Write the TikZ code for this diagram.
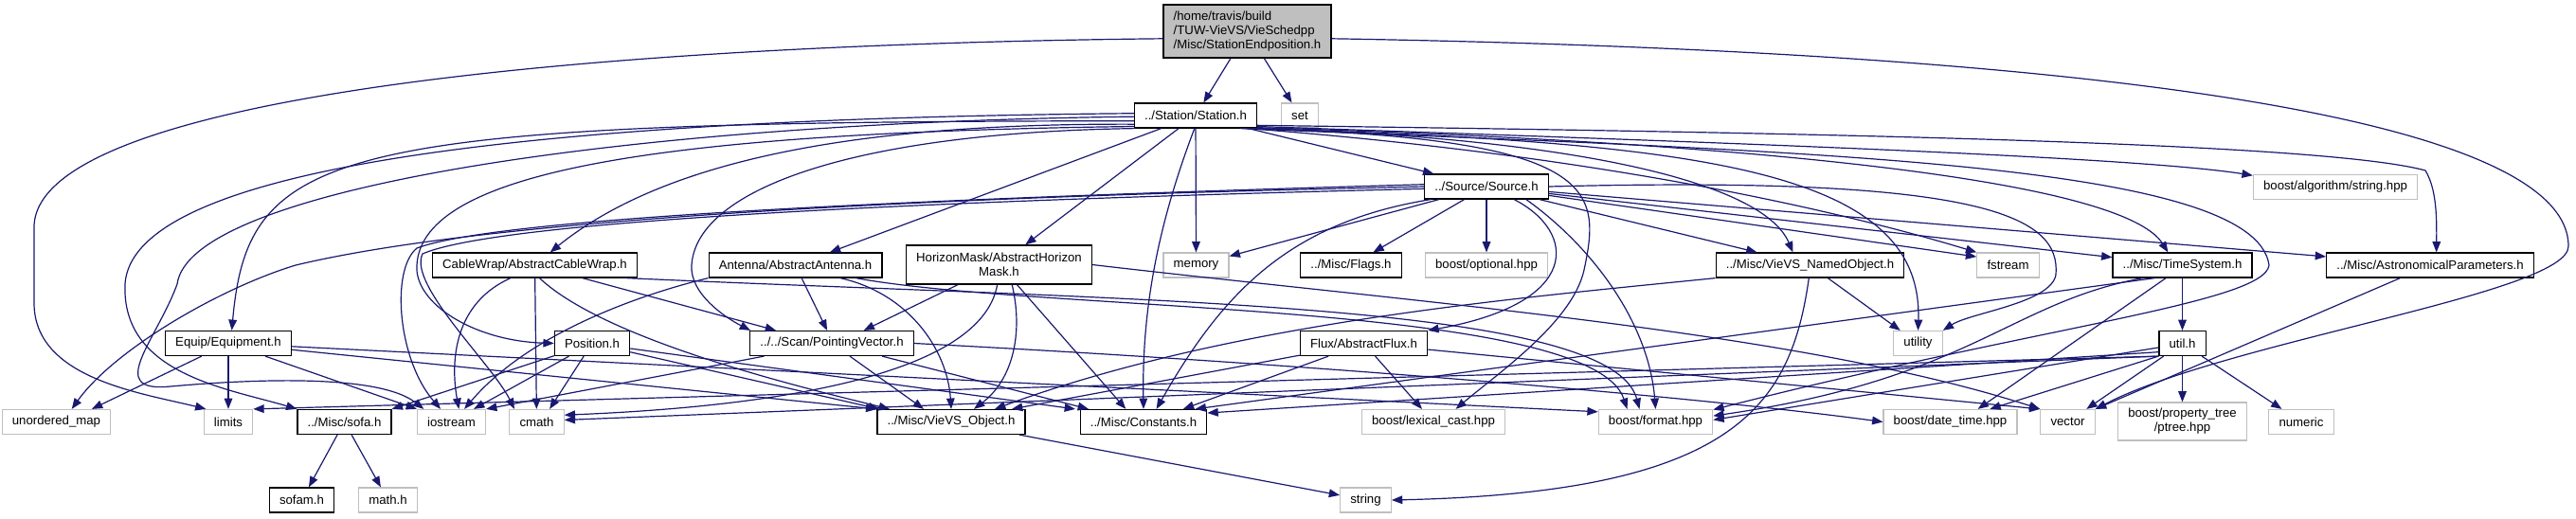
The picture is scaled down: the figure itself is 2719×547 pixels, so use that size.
\documentclass[tikz,border=0pt]{standalone}
\usepackage{fontspec}
\setmainfont{Liberation Sans}
\usetikzlibrary{arrows.meta,calc}
\definecolor{incblue}{HTML}{191970}
\definecolor{sysgray}{HTML}{BFBFBF}

\begin{document}
\begin{tikzpicture}[
  x=0.75pt, y=0.75pt,
  font=\fontsize{9.9}{11.3}\selectfont,
  filebox/.style={
    draw,
    line width=0.9pt,
    fill=white,
    inner xsep=8pt,
    inner ysep=4.4pt,
    minimum height=19.5pt,
    align=center
  },
  hdr/.style={filebox, draw=black},
  sysfile/.style={filebox, draw=sysgray},
  rootfile/.style={filebox, draw=black, fill=sysgray, align=left, minimum height=42pt},
  inc/.style={
    -{Triangle[length=8.5pt,width=6.5pt]},
    line width=0.9pt,
    draw=incblue
  }
]
  \useasboundingbox (0,0) rectangle (2719,-547);

  % -------------------------------------------------------------
  % FILES (one row per include level)
  % -------------------------------------------------------------
  \node[rootfile] (root) at (1316.5,-33) {/home/travis/build\\/TUW-VieVS/VieSchedpp\\/Misc/StationEndposition.h};

  \node[hdr] (station) at (1262,-122) {../Station/Station.h};
  \node[sysfile] (set) at (1372,-122) {set};

  \node[hdr] (source) at (1569,-197) {../Source/Source.h};
  \node[sysfile] (algstr) at (2465,-197.5) {boost/algorithm/string.hpp};

  \node[hdr] (cablewrap) at (564.5,-280) {CableWrap/AbstractCableWrap.h};
  \node[hdr] (antenna) at (839.5,-280) {Antenna/AbstractAntenna.h};
  \node[hdr, minimum height=30.75pt] (horizon) at (1054.5,-279.5) {HorizonMask/AbstractHorizon\\Mask.h};
  \node[sysfile] (memory) at (1262.5,-280) {memory};
  \node[hdr] (flags) at (1426,-280) {../Misc/Flags.h};
  \node[sysfile] (optional) at (1569,-280) {boost/optional.hpp};
  \node[hdr] (named) at (1910.5,-280) {../Misc/VieVS\_NamedObject.h};
  \node[sysfile] (fstream) at (2119.5,-280) {fstream};
  \node[hdr] (timesys) at (2303.5,-280) {../Misc/TimeSystem.h};
  \node[hdr] (astro) at (2565,-280) {../Misc/AstronomicalParameters.h};

  \node[hdr] (equip) at (241,-362.5) {Equip/Equipment.h};
  \node[hdr] (position) at (625,-362.5) {Position.h};
  \node[hdr] (pointing) at (878,-362.5) {../../Scan/PointingVector.h};
  \node[hdr] (flux) at (1439.5,-362.5) {Flux/AbstractFlux.h};
  \node[sysfile] (utility) at (2024.5,-362.5) {utility};
  \node[hdr] (util) at (2303.5,-362.5) {util.h};

  \node[sysfile] (unordered) at (59.5,-445.5) {unordered\_map};
  \node[sysfile] (limits) at (241,-445.5) {limits};
  \node[hdr] (sofa) at (363.5,-445.5) {../Misc/sofa.h};
  \node[sysfile] (iostream) at (476.5,-445.5) {iostream};
  \node[sysfile] (cmath) at (566.5,-445.5) {cmath};
  \node[hdr] (vobj) at (1004,-445.5) {../Misc/VieVS\_Object.h};
  \node[hdr] (constants) at (1207,-445.5) {../Misc/Constants.h};
  \node[sysfile] (lexical) at (1513,-445.5) {boost/lexical\_cast.hpp};
  \node[sysfile] (format) at (1747.5,-445.5) {boost/format.hpp};
  \node[sysfile] (datetime) at (2058.5,-445.5) {boost/date\_time.hpp};
  \node[sysfile] (vector) at (2182.5,-445.5) {vector};
  \node[sysfile, minimum height=30pt] (ptree) at (2303.5,-445) {boost/property\_tree\\/ptree.hpp};
  \node[sysfile] (numeric) at (2429,-445.5) {numeric};

  \node[hdr] (sofam) at (318.5,-528) {sofam.h};
  \node[sysfile] (mathh) at (409.5,-528) {math.h};
  \node[sysfile] (string) at (1441.5,-528) {string};

  % -------------------------------------------------------------
  % INCLUDES OF THE ROOT FILE
  % -------------------------------------------------------------
  \draw[inc] (root) -- (station);
  \draw[inc] (root) -- (set);
  \draw[inc] (root.185) .. controls (560,-48) and (36,-110) .. (36,-240)
    -- (36,-320) .. controls (36,-400) and (150,-415) .. (limits.150);
  \draw[inc] (root.-5) .. controls (2250,-55) and (2711,-130) .. (2711,-260)
    .. controls (2711,-310) and (2350,-360) .. (vector.north east);

  % -------------------------------------------------------------
  % STATION.H
  % -------------------------------------------------------------
  \draw[inc] (station) -- (source);
  \draw[inc] (station) -- (antenna);
  \draw[inc] (station) -- (horizon);
  \draw[inc] (station) -- (memory);
  \draw[inc] (station.188) .. controls (900,-130) and (700,-170) .. (cablewrap.40);
  \draw[inc] (station.185) .. controls (350,-128) and (262,-155) .. (equip.75);
  \draw[inc] (station.178) .. controls (600,-125) and (140,-170) .. (132,-300)
    .. controls (128,-395) and (240,-410) .. (sofa.north west);
  \draw[inc] (station.181) .. controls (650,-130) and (200,-200) .. (187,-300)
    .. controls (165,-360) and (110,-415) .. (180,-408)
    .. controls (270,-400) and (400,-395) .. (iostream.155);
  \draw[inc] (station.190) .. controls (700,-140) and (445,-180) .. (440,-280)
    .. controls (437,-320) and (500,-360) .. (position.west);
  \draw[inc] (station.192) .. controls (900,-140) and (735,-200) .. (730,-280)
    .. controls (728,-310) and (765,-335) .. (pointing.171);
  \draw[inc] (station.-95) .. controls (1225,-230) and (1205,-320) .. (constants.north);
  \draw[inc] (station.-9) .. controls (1900,-140) and (2450,-150) .. (2560,-180)
    .. controls (2572,-200) and (2572,-230) .. ([xshift=5pt]astro.north);
  \draw[inc] (station.-10) .. controls (1800,-150) and (2250,-165) .. (algstr.172);
  \draw[inc] (station.-11) .. controls (1850,-150) and (2240,-190) .. (timesys.138);
  \draw[inc] (station.-12) .. controls (1650,-145) and (1860,-190) .. (named.143);
  \draw[inc] (station.-13) .. controls (1800,-150) and (2030,-180) .. (utility.north);
  \draw[inc] (station.-14) .. controls (1700,-165) and (1950,-225) .. (fstream.north west);
  \draw[inc] (station.-15) .. controls (1690,-145) and (1690,-200) .. (1672,-285)
    .. controls (1660,-340) and (1580,-395) .. (lexical.30);
  \draw[inc] (station.-16) .. controls (1900,-160) and (2380,-170) .. (2395,-280)
    .. controls (2390,-320) and (2150,-345) .. (format.12);

  % -------------------------------------------------------------
  % SOURCE.H
  % -------------------------------------------------------------
  \draw[inc] (source) -- (flags);
  \draw[inc] (source) -- (optional);
  \draw[inc] (source) -- (named);
  \draw[inc] (source) -- (fstream.165);
  \draw[inc] (source) -- (timesys);
  \draw[inc] (source) -- (astro);
  \draw[inc] (source) -- (memory);
  \draw[inc] (source.-25) .. controls (1665,-245) and (1670,-320) .. (flux.north east);
  \draw[inc] (source.-18) .. controls (1680,-260) and (1740,-340) .. (format.north);
  \draw[inc] (source.193) .. controls (1360,-235) and (1290,-310) .. (constants.45);
  \draw[inc] (source.east) .. controls (2100,-185) and (2175,-230) .. (2170,-290)
    .. controls (2165,-320) and (2080,-330) .. (utility.north east);
  \draw[inc] (source.west) .. controls (900,-210) and (500,-235) .. (312,-280)
    .. controls (230,-305) and (120,-370) .. (unordered.40);
  \draw[inc] (source.178) .. controls (900,-212) and (520,-232) .. (440,-262)
    .. controls (412,-285) and (420,-380) .. (iostream.130);
  \draw[inc] (source.182) .. controls (900,-214) and (520,-236) .. (446,-268)
    .. controls (430,-300) and (520,-385) .. (cmath.150);

  % -------------------------------------------------------------
  % STATION PARTS
  % -------------------------------------------------------------
  \draw[inc] (equip) -- (unordered.20);
  \draw[inc] (equip) -- (limits);
  \draw[inc] (equip) -- (iostream.north west);
  \draw[inc] (equip) -- (vobj.north west);
  \draw[inc] (equip) -- (format.170);

  \draw[inc] (position) -- (sofa.north east);
  \draw[inc] (position) -- (iostream.30);
  \draw[inc] (position) -- (cmath.45);
  \draw[inc] (position) -- ([xshift=-57pt]vobj.north);
  \draw[inc] (position) -- ([xshift=-54pt]constants.north);

  \draw[inc] (cablewrap.-152) .. controls (480,-320) and (475,-380) .. (iostream.60);
  \draw[inc] (cablewrap) -- (cmath);
  \draw[inc] (cablewrap) -- (pointing.167);
  \draw[inc] (cablewrap.-70) .. controls (640,-360) and (850,-410) .. ([xshift=-48.75pt]vobj.north);
  \draw[inc] (cablewrap.-8) .. controls (1200,-318) and (1700,-318) .. ([xshift=-12.75pt]format.north);

  \draw[inc] (antenna.south west) .. controls (680,-310) and (560,-350) .. (iostream.45);
  \draw[inc] (antenna) -- (pointing.110);
  \draw[inc] (antenna.-16) .. controls (960,-310) and (1000,-370) .. (vobj.north);
  \draw[inc] (antenna.-12) .. controls (1100,-330) and (1680,-318) .. ([xshift=-22.5pt]format.north);

  \draw[inc] (horizon) -- (pointing.22);
  \draw[inc] (horizon.-57) .. controls (1080,-350) and (1070,-400) .. ([xshift=18pt]vobj.north);
  \draw[inc] (horizon.-48) -- (constants.144);
  \draw[inc] (horizon.-95) .. controls (1035,-400) and (800,-430) .. (cmath.14);
  \draw[inc] (horizon.east) .. controls (1500,-320) and (1900,-350) .. (vector.north west);

  \draw[inc] (pointing) -- ([xshift=-21.75pt]vobj.north);
  \draw[inc] (pointing) -- ([xshift=-43.5pt]constants.north);
  \draw[inc] (pointing) -- (iostream.north east);
  \draw[inc] (pointing.east) .. controls (1400,-385) and (1800,-420) .. (datetime.west);

  % -------------------------------------------------------------
  % MISC HEADERS
  % -------------------------------------------------------------
  \draw[inc] (flux) -- (vobj.12);
  \draw[inc] (flux) -- (constants.18);
  \draw[inc] (flux) -- (lexical);
  \draw[inc] (flux) -- (vector.north west);

  \draw[inc] (named.south west) .. controls (1600,-315) and (1300,-340) .. ([xshift=34.5pt]vobj.north);
  \draw[inc] (named) -- (utility);
  \draw[inc] (named.-95) .. controls (1890,-430) and (1830,-520) .. (string.east);
  \draw[inc] (vobj) -- (string);

  \draw[inc] (timesys) -- (util);
  \draw[inc] (timesys.-162) .. controls (2120,-320) and (2080,-400) .. (format.6);
  \draw[inc] (timesys.-142) -- (datetime.25);
  \draw[inc] (timesys.-155) -- (constants.14);

  \draw[inc] (util) -- (ptree);
  \draw[inc] (util) -- (numeric);
  \draw[inc] (util) -- (vector);
  \draw[inc] (util.south west) -- (datetime.18);
  \draw[inc] (util.190) -- (format.2);
  \draw[inc] (util.200) -- (constants.8);
  \draw[inc] (util.south west) -- (cmath.4);
  \draw[inc] (util.south west) -- (limits.north east);

  \draw[inc] (astro) -- (vector.north east);

  \draw[inc] (sofa) -- (sofam);
  \draw[inc] (sofa) -- (mathh);

\end{tikzpicture}
\end{document}
